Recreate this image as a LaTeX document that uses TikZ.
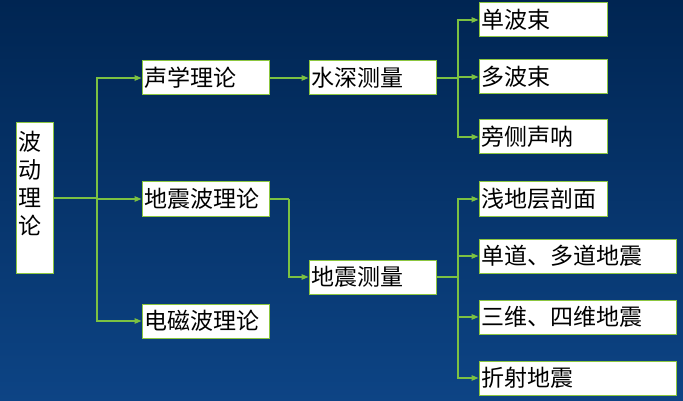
\documentclass[tikz,border=0pt]{standalone}
\usepackage{fontspec}
\newfontfamily\cjk{Noto Sans CJK SC}
\usetikzlibrary{arrows.meta}
\definecolor{bgtop}{HTML}{002552}
\definecolor{bgbot}{HTML}{0D4485}
\definecolor{boxgreen}{HTML}{8CC63F}
\definecolor{linegreen}{HTML}{7CC142}
\tikzset{
  box/.style={draw=boxgreen, fill=white, line width=1pt, inner xsep=2pt, inner ysep=0pt,
    minimum height=34pt, text width=#1, align=left, font=\cjk\fontsize{23}{28}\selectfont},
  box/.default=123pt,
  conn/.style={draw=linegreen, line width=1.2pt},
  arr/.style={conn, -{Triangle[length=7pt,width=5.5pt]}}
}
\begin{document}
\begin{tikzpicture}[x=1pt,y=-1pt]
\useasboundingbox (0,0) rectangle (683,401);
\shade[top color=bgtop, bottom color=bgbot] (0,0) rectangle (683,401);
% nodes
\node[box=33pt, minimum height=150pt] (wave) at (34.5,198)
  {\parbox[t][142pt][t]{33pt}{\vspace*{4pt}波\\动\\理\\论}};
\node[box] (acoustic) at (205.5,78) {声学理论};
\node[box] (seismic) at (205.5,199) {地震波理论};
\node[box] (em) at (205.5,321) {电磁波理论};
\node[box] (depth) at (372.5,78) {水深测量};
\node[box] (seismeas) at (372.5,277) {地震测量};
\node[box=124pt] (single) at (543,20) {单波束};
\node[box=124pt] (multi) at (543,77) {多波束};
\node[box=124pt] (side) at (543,137) {旁侧声呐};
\node[box=124pt] (shallow) at (543,199) {浅地层剖面};
\node[box=193pt] (chan) at (577.5,256) {单道、多道地震};
\node[box=193pt] (threed) at (577.5,317) {三维、四维地震};
\node[box=193pt] (refr) at (577.5,378) {折射地震};
% junctions
\coordinate (j1) at (97,198);
\coordinate (j2) at (289,199);
\coordinate (j3) at (458,78);
\coordinate (j4) at (458,277);
% connectors
\draw[conn] (wave.east) -- (j1);
\draw[arr] (j1) |- (acoustic.west);
\draw[arr] (j1) |- (seismic.west);
\draw[arr] (j1) |- (em.west);
\draw[arr] (acoustic.east) -- (depth.west);
\draw[conn] (seismic.east) -- (j2);
\draw[arr] (j2) |- (seismeas.west);
\draw[conn] (depth.east) -- (j3);
\draw[arr] (j3) |- (single.west);
\draw[arr] (j3) |- (multi.west);
\draw[arr] (j3) |- (side.west);
\draw[conn] (seismeas.east) -- (j4);
\draw[arr] (j4) |- (shallow.west);
\draw[arr] (j4) |- (chan.west);
\draw[arr] (j4) |- (threed.west);
\draw[arr] (j4) |- (refr.west);
\end{tikzpicture}
\end{document}
